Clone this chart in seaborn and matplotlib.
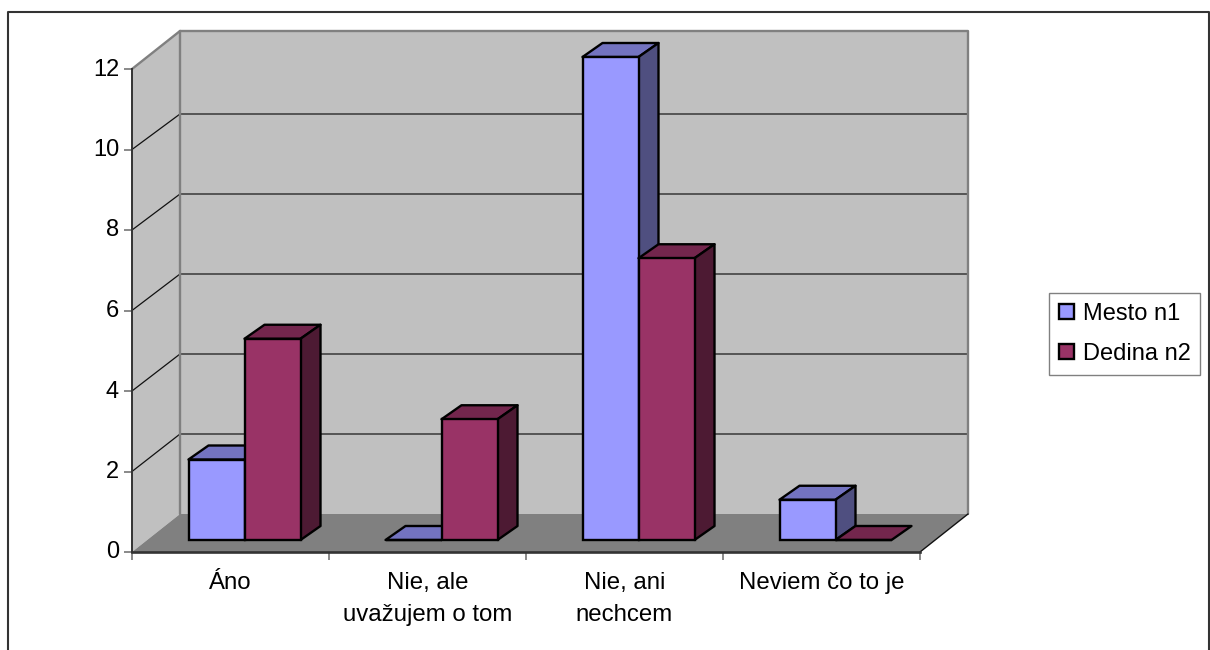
import matplotlib
matplotlib.use("Agg")
import matplotlib.pyplot as plt
from matplotlib.lines import Line2D
from matplotlib.patches import Polygon
from matplotlib.transforms import Affine2D
import pandas as pd
import seaborn as sns

# Survey answers and counts per group
categories = ["Áno", "Nie, ale\nuvažujem o tom", "Nie, ani\nnechcem", "Neviem čo to je"]
mesto_n1 = [2, 0, 12, 1]
dedina_n2 = [5, 3, 7, 0]
group_names = ["Mesto n1", "Dedina n2"]
y_ticks = [0, 2, 4, 6, 8, 10, 12]

FRONT = {"Mesto n1": "#9999FF", "Dedina n2": "#993366"}
TOP = {"Mesto n1": "#7373C0", "Dedina n2": "#73264D"}
SIDE = {"Mesto n1": "#4F4F80", "Dedina n2": "#4D1A33"}

W, H = 1210, 650
PX_X = 197.0    # pixels per category
PX_Y = 40.25    # pixels per count unit

df = pd.DataFrame({
    "odpoved": categories * 2,
    "pocet": mesto_n1 + dedina_n2,
    "skupina": [group_names[0]] * 4 + [group_names[1]] * 4,
})

sns.set_theme(style="white")
plt.rcParams["font.family"] = ["Liberation Sans", "DejaVu Sans"]

fig = plt.figure(figsize=(W / 100, H / 100), dpi=100, facecolor="white")
ax = fig.add_axes([132 / W, (H - 552) / H, 788 / W, 483 / H], facecolor="none")

sns.barplot(data=df, x="odpoved", y="pocet", hue="skupina", order=categories,
            hue_order=group_names, palette=FRONT, saturation=1, width=112 / PX_X,
            gap=0, edgecolor="black", linewidth=1.7, ax=ax, zorder=3)
ax.set_xlim(-0.5, 3.5)
ax.set_ylim(0, 12)
ax.set_xlabel("")
ax.set_ylabel("")

# Box walls: depth of the chart room, expressed in data units
room_dx, room_dy = 48 / PX_X, 38 / PX_Y
back_scale = 40.0 / PX_Y    # the back wall is a touch smaller than the front plane
x0, x1, ymax = -0.5, 3.5, 12
wall_kw = dict(clip_on=False, linewidth=0)
ax.add_patch(Polygon([(x0 + room_dx, room_dy), (x1 + room_dx, room_dy),
                      (x1 + room_dx, ymax + room_dy + 0.02), (x0 + room_dx, ymax + room_dy + 0.02)],
                     facecolor="#C0C0C0", zorder=0.5, **wall_kw))
ax.add_patch(Polygon([(x0, 0), (x0 + room_dx, room_dy), (x0 + room_dx, ymax + room_dy), (x0, ymax)],
                     facecolor="#C0C0C0", zorder=0.5, **wall_kw))
ax.add_patch(Polygon([(x0, 0), (x1, 0), (x1 + room_dx, room_dy), (x0 + room_dx, room_dy)],
                     facecolor="#808080", zorder=0.6, **wall_kw))

for v in y_ticks[1:-1]:
    back_y = v * back_scale + room_dy
    ax.plot([x0 + room_dx, x1 + room_dx], [back_y, back_y], color="#555555", lw=1.4,
            clip_on=False, zorder=0.8)
    ax.plot([x0, x0 + room_dx], [v, back_y], color="#111111", lw=0.9,
            clip_on=False, zorder=0.8)
edge_kw = dict(color="#808080", lw=1.7, clip_on=False, zorder=0.9)
ax.plot([x0 + room_dx, x1 + room_dx, x1 + room_dx], [ymax + room_dy, ymax + room_dy, room_dy], **edge_kw)
ax.plot([x0 + room_dx, x0 + room_dx], [room_dy, ymax + room_dy], **edge_kw)
ax.plot([x0, x0 + room_dx], [ymax, ymax + room_dy], **edge_kw)
ax.plot([x1, x1 + room_dx], [0, room_dy], color="#111111", lw=1.0, clip_on=False, zorder=0.9)

# Bars stand slightly inside the room; their 3D faces share the same pixel offset
bar_shift = ax.transData + Affine2D().translate(14, 12)
bar_dx, bar_dy = 20 / PX_X, 14 / PX_Y
face_kw = dict(edgecolor="black", linewidth=1.7, clip_on=False, joinstyle="round",
               transform=bar_shift)
for i, (container, name) in enumerate(zip(ax.containers, group_names)):
    for j, bar in enumerate(container):
        left, right, h = bar.get_x(), bar.get_x() + bar.get_width(), bar.get_height()
        z = 2 + j + i * 0.3
        bar.set_transform(bar_shift)
        bar.set_clip_on(False)
        bar.set_zorder(z + 0.2)
        ax.add_patch(Polygon([(left, h), (right, h), (right + bar_dx, h + bar_dy), (left + bar_dx, h + bar_dy)],
                             facecolor=TOP[name], zorder=z, **face_kw))
        if h > 0:
            ax.add_patch(Polygon([(right, 0), (right + bar_dx, bar_dy), (right + bar_dx, h + bar_dy), (right, h)],
                                 facecolor=SIDE[name], zorder=z, **face_kw))

# Axes, ticks and labels
sns.despine(ax=ax, top=True, right=True)
ax.spines["left"].set_color("#333333")
ax.spines["left"].set_linewidth(1.4)
ax.spines["bottom"].set_color("#333333")
ax.spines["bottom"].set_linewidth(1.9)
ax.set_yticks(y_ticks)
ax.tick_params(axis="y", which="major", left=True, length=5.8, width=1.3, color="#808080",
               labelsize=17, labelcolor="black", pad=3.5)
ax.set_xticks([-0.5, 0.5, 1.5, 2.5, 3.5], minor=True)
ax.tick_params(axis="x", which="minor", bottom=True, length=5.8, width=1.3, color="#808080")
ax.tick_params(axis="x", which="major", bottom=False, length=0, labelsize=17.3,
               labelcolor="black", pad=14.5)
for label in ax.get_xticklabels():
    label.set_linespacing(1.58)
for label in ax.get_yticklabels():
    label.set_transform(label.get_transform() + Affine2D().translate(0, 2))

handles, labels = ax.get_legend_handles_labels()
ax.legend(handles, labels, loc="center left", bbox_to_anchor=(1049 / W, (H - 334) / H),
          bbox_transform=fig.transFigure, frameon=True, fancybox=False, framealpha=1,
          facecolor="white", edgecolor="#808080", labelcolor="black", fontsize=17,
          handlelength=0.62, handleheight=0.62, handletextpad=0.38, labelspacing=0.75,
          borderpad=0.42, borderaxespad=0)

# Outer chart frame, open at the bottom edge
fig.add_artist(Line2D([8 / W, 8 / W, 1209 / W, 1209 / W], [0, (H - 12) / H, (H - 12) / H, 0],
                      color="#333333", lw=1.5, transform=fig.transFigure))

fig.savefig("out.png", dpi=100)
